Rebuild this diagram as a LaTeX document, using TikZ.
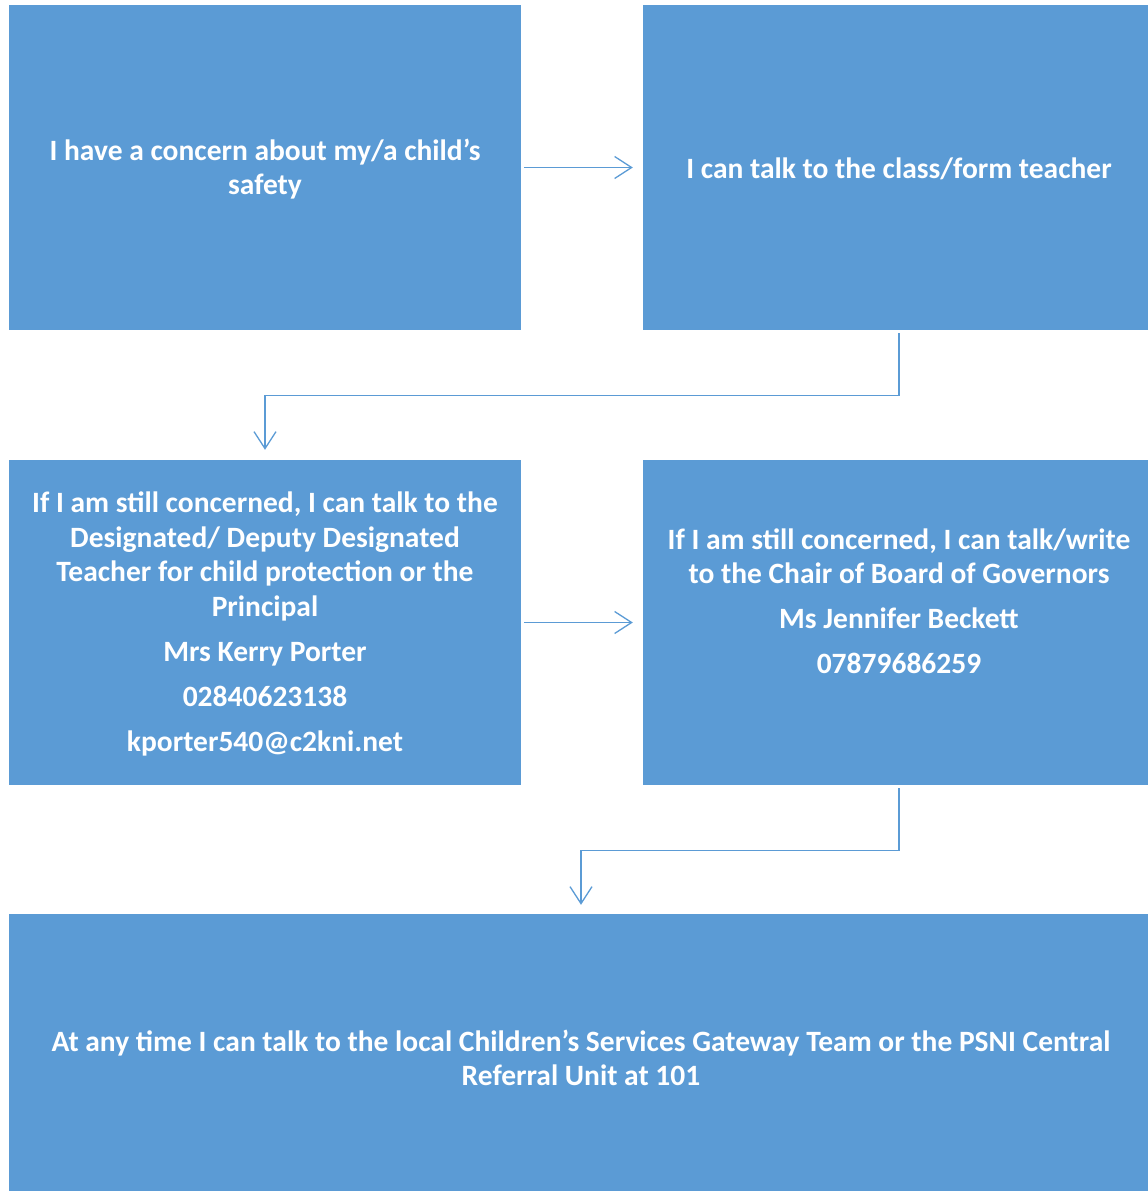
\documentclass[tikz,border=0pt]{standalone}
\usepackage{fontspec}
\setmainfont{Carlito}
\usetikzlibrary{arrows.meta}
\definecolor{boxblue}{HTML}{5B9BD5}
\tikzset{
  box/.style={draw=none, fill=boxblue, rectangle, inner sep=0pt},
  txt/.style={text=white, font=\bfseries\fontsize{29.5}{34.5}\selectfont, align=center, inner sep=0pt},
  conn/.style={draw=boxblue, line width=1.3pt, -{Straight Barb[length=17pt,width=22pt,line width=1.3pt]}}
}
\begin{document}
\begin{tikzpicture}[x=1pt,y=-1pt]
\useasboundingbox (0,0) rectangle (1148,1191);
\node[box, minimum width=512pt, minimum height=325pt] (b1) at (265,167.5) {};
\node[box, minimum width=505pt, minimum height=325pt] (b2) at (895.5,167.5) {};
\node[box, minimum width=512pt, minimum height=325pt] (b3) at (265,622.5) {};
\node[box, minimum width=505pt, minimum height=325pt] (b4) at (895.5,622.5) {};
\node[box, minimum width=1139pt, minimum height=277pt] (b5) at (578.5,1052.5) {};
\node[txt] (t1) at (265,169) {I have a concern about my/a child’s\\safety};
\node[txt] (t2) at (899,169) {I can talk to the class/form teacher};
\node[txt] (t3) at (265,624) {If I am still concerned, I can talk to the\\Designated/ Deputy Designated\\Teacher for child protection or the\\Principal\\[10.5pt]Mrs Kerry Porter\\[10.5pt]02840623138\\[10.5pt]kporter540@c2kni.net};
\node[txt] (t4) at (899,601) {If I am still concerned, I can talk/write\\to the Chair of Board of Governors\\[10.5pt]Ms Jennifer Beckett\\[10.5pt]07879686259};
\node[txt] (t5) at (581,1058) {At any time I can talk to the local Children’s Services Gateway Team or the PSNI Central\\Referral Unit at 101};
\draw[conn, shorten <=3pt, shorten >=10pt] (b1.east) -- (b2.west);
\draw[conn, shorten <=3pt, shorten >=10pt] (b3.east) -- (b4.west);
\draw[conn, shorten <=3pt, shorten >=10pt] ([xshift=3.5pt]b2.south) -- ++(0,65) -| (b3.north);
\draw[conn, shorten <=3pt, shorten >=9pt] ([xshift=3.5pt]b4.south) -- ++(0,65) -| ([xshift=2.5pt]b5.north);
\end{tikzpicture}
\end{document}
